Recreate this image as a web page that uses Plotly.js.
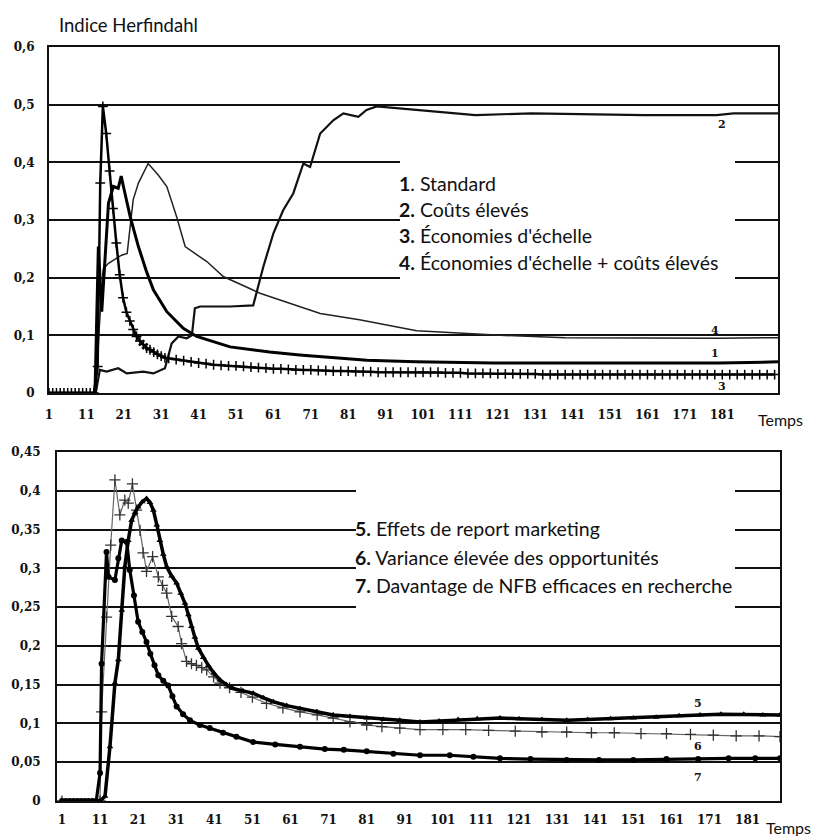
<!DOCTYPE html>
<html><head><meta charset="utf-8">
<script src="https://cdn.plot.ly/plotly-3.0.1.min.js"></script>
<style>html,body{margin:0;padding:0;background:#fff}#c{width:816px;height:836px}</style>
</head><body><div id="c"></div>
<script>
// ---------- DATA ----------
const xTickVals = [1,11,21,31,41,51,61,71,81,91,101,111,121,131,141,151,161,171,181];
const xTickText = ["1","11","21","31","41","51","61","71","81","91","101","111","121","131","141","151","161","171","181"];
const yTopVals = [0,0.1,0.2,0.3,0.4,0.5,0.6];
const yTopText = ["0","0,1","0,2","0,3","0,4","0,5","0,6"];
const yBotVals = [0,0.05,0.1,0.15,0.2,0.25,0.3,0.35,0.4,0.45];
const yBotText = ["0","0,05","0,1","0,15","0,2","0,25","0,3","0,35","0,4","0,45"];

const legendTop = ["<b>1</b>. Standard","<b>2.</b> Coûts élevés","<b>3.</b> Économies d'échelle","<b>4.</b> Économies d'échelle + coûts élevés"];
const legendBot = ["<b>5.</b> Effets de report marketing","<b>6.</b> Variance élevée des opportunités","<b>7.</b> Davantage de NFB efficaces en recherche"];

// Série 1 : Standard
const s1 = [[1,0],[13.3,0],[14.2,0.254],[15.1,0.141],[16.9,0.329],[18.2,0.358],[19.5,0.355],[20.3,0.376],[20.9,0.358],[22.7,0.306],[24.9,0.254],[27.1,0.21],[28.9,0.179],[32.5,0.141],[36.9,0.112],[40.5,0.098],[49.4,0.080],[60,0.071],[68,0.066],[86,0.057],[99,0.054],[120,0.052],[150,0.052],[180,0.052],[195.9,0.054]];
// Série 2 : Coûts élevés
const s2 = [[1,0],[13.5,0],[14.6,0.04],[16.4,0.037],[19.5,0.043],[21.8,0.034],[26.2,0.037],[28.9,0.034],[32,0.043],[33.8,0.086],[35.6,0.098],[37.8,0.095],[39.2,0.1],[40,0.147],[41.4,0.15],[49.4,0.15],[55.6,0.152],[58.3,0.219],[61,0.277],[63.6,0.317],[66.3,0.346],[68.1,0.381],[69,0.398],[70.8,0.392],[73.5,0.45],[77,0.473],[79.7,0.485],[83.7,0.479],[85.9,0.491],[88.6,0.497],[100,0.491],[103.8,0.488],[115,0.482],[130,0.485],[145,0.483],[160,0.482],[179.5,0.482],[184,0.485],[195.9,0.485]];
// Série 3 : Économies d'échelle
const s3 = [[1,0],[2,0],[3,0],[4,0],[5,0],[6,0],[7,0],[8,0],[9,0],[10,0],[11,0],[12,0],[13,0],[14,0.046],[14.7,0.364],[15.4,0.497],[16.3,0.45],[17.2,0.385],[18.1,0.32],[19,0.26],[19.9,0.205],[20.8,0.165],[21.7,0.14],[22.6,0.125],[23.5,0.11],[24.4,0.098],[25.3,0.09],[26.2,0.084],[27.1,0.078],[28,0.075],[29,0.071],[30,0.067],[31,0.064],[32,0.061],[33,0.06],[35,0.058],[37,0.056],[39,0.054],[41,0.052],[43,0.051],[45,0.049],[47,0.048],[49,0.047],[51,0.047],[53,0.046],[55,0.045],[57,0.044],[59,0.043],[61,0.042],[63,0.042],[65,0.041],[67,0.040],[69,0.040],[71,0.040],[73,0.039],[75,0.039],[77,0.038],[79,0.038],[81,0.038],[83,0.037],[85,0.037],[87,0.037],[89,0.036],[91,0.036],[93,0.036],[95,0.036],[97,0.036],[99,0.036],[101,0.036],[103,0.036],[105,0.036],[107,0.035],[109,0.035],[111,0.035],[113,0.034],[115,0.034],[117,0.034],[119,0.034],[121,0.033],[123,0.033],[125,0.033],[127,0.033],[129,0.033],[131,0.033],[133,0.032],[135,0.032],[137,0.032],[139,0.032],[141,0.032],[143,0.032],[145,0.032],[147,0.032],[149,0.032],[151,0.032],[153,0.032],[155,0.032],[157,0.032],[159,0.032],[161,0.032],[163,0.032],[165,0.032],[167,0.032],[169,0.032],[171,0.032],[173,0.032],[175,0.032],[177,0.032],[179,0.032],[181,0.032],[183,0.032],[185,0.032],[187,0.032],[189,0.032],[191,0.032],[193,0.032],[195,0.032]];
// Série 4 : Économies d'échelle + coûts élevés
const s4 = [[1,0],[13.5,0],[14.5,0.12],[15.5,0.215],[16.9,0.225],[20.4,0.239],[21.9,0.242],[22.7,0.294],[23.5,0.335],[24.9,0.364],[27.5,0.398],[30.2,0.378],[32.5,0.358],[35.1,0.306],[37.4,0.254],[40,0.242],[43.2,0.228],[47.6,0.202],[57.4,0.173],[73.5,0.138],[84,0.127],[99.3,0.108],[110,0.104],[121.6,0.1],[139,0.096],[160,0.095],[180,0.095],[195.9,0.096]];

// Série 5 : Effets de report marketing
const s5 = [[1,0],[3,0],[5,0],[7,0],[9,0],[11,0],[12.3,0.006],[13.6,0.07],[14.9,0.152],[15.8,0.182],[16.7,0.246],[17.5,0.302],[18.4,0.336],[19.3,0.362],[20.2,0.372],[21,0.379],[22.1,0.386],[23.2,0.39],[24.1,0.385],[25,0.375],[25.9,0.356],[26.7,0.336],[27.6,0.318],[28.5,0.302],[29.8,0.29],[31.1,0.281],[32.2,0.268],[33.3,0.255],[34.2,0.24],[35,0.225],[35.9,0.211],[36.8,0.197],[38.1,0.185],[39.4,0.175],[40.9,0.165],[42.5,0.156],[44.2,0.15],[45.9,0.145],[48.5,0.142],[51.2,0.139],[53.9,0.133],[56.5,0.128],[60,0.123],[63.5,0.119],[67.9,0.115],[72.2,0.111],[76.6,0.109],[81,0.107],[85.4,0.105],[89.7,0.104],[95,0.102],[100,0.103],[105,0.105],[110,0.106],[116,0.107],[121,0.106],[127,0.105],[133.5,0.104],[139,0.105],[145,0.106],[151,0.107],[157,0.108],[163,0.11],[168.5,0.111],[174,0.112],[180,0.112],[185,0.111],[189.5,0.111]];
// Série 6 : Variance élevée des opportunités
const s6 = [[1,0],[11,0],[11.4,0.115],[12.7,0.237],[13.8,0.33],[14.9,0.414],[16.2,0.369],[17.5,0.388],[18.4,0.384],[19.5,0.409],[20.6,0.375],[21.5,0.349],[22.3,0.32],[23.2,0.296],[24.8,0.315],[26.3,0.289],[27.4,0.278],[28.5,0.268],[29.8,0.238],[31.5,0.225],[32.4,0.203],[33.7,0.18],[35,0.177],[36.3,0.175],[37.7,0.172],[39,0.169],[40.8,0.16],[42.5,0.152],[45,0.146],[48,0.14],[51,0.134],[54.7,0.126],[59,0.12],[63.5,0.115],[68,0.111],[72.2,0.107],[76.6,0.102],[81,0.098],[85,0.096],[89.7,0.094],[95,0.092],[101,0.092],[107,0.092],[113,0.091],[120,0.09],[127,0.089],[133.5,0.089],[140,0.088],[146,0.088],[153,0.087],[159.7,0.087],[166,0.086],[172,0.085],[178,0.084],[184,0.084],[189.5,0.083]];
// Série 7 : Davantage de NFB efficaces en recherche
const s7 = [[1,0],[2,0],[3,0],[4,0],[5,0],[6,0],[7,0],[8,0],[9,0],[10,0],[11,0.036],[11.4,0.177],[12.7,0.321],[13.2,0.289],[14.9,0.285],[15.8,0.313],[16.7,0.336],[18,0.334],[18.8,0.298],[19.9,0.265],[21,0.231],[22.1,0.218],[23.2,0.205],[24.2,0.19],[25.3,0.175],[26.3,0.162],[27.6,0.155],[28.9,0.149],[30,0.135],[31.1,0.122],[32.8,0.112],[34.6,0.104],[37.2,0.098],[39.8,0.094],[43.3,0.088],[46.8,0.083],[51.2,0.076],[57,0.073],[63.5,0.07],[70,0.067],[75,0.066],[81,0.064],[88,0.061],[95,0.059],[102.8,0.059],[109,0.057],[116,0.055],[124,0.054],[133.5,0.053],[142,0.053],[151,0.053],[159.7,0.054],[168,0.054],[176,0.055],[183,0.055],[189.5,0.055]];

// series end labels
const topLabels = [["2",181,0.466],["4",179,0.108],["1",179,0.068],["3",181,0.011]];
const botLabels = [["5",168,0.126],["6",168,0.07],["7",168,0.03]];

// ---------- BUILD ----------
const X = a => a.map(p => p[0]);
const Y = a => a.map(p => p[1]);
const W = 816, H = 836;
const px = v => v / W, py = v => 1 - v / H;

const tickFont = {family: "DejaVu Serif", size: 12, color: "#111", weight: "bold"};
const txtFam = "Lato, 'Open Sans', sans-serif";
const txtFont = {family: txtFam, size: 19.5, color: "#111"};

function tr(data, xa, ya, line, marker) {
  const t = {x: X(data), y: Y(data), xaxis: xa, yaxis: ya, type: "scatter",
    mode: marker ? "lines+markers" : "lines", line: line, hoverinfo: "skip"};
  if (marker) t.marker = marker;
  return t;
}

const traces = [
  tr(s4, "x", "y", {color: "#222", width: 1.5}),
  tr(s2, "x", "y", {color: "#111", width: 2.2}),
  tr(s1, "x", "y", {color: "#000", width: 3}),
  tr(s3, "x", "y", {color: "#000", width: 2.5}, {symbol: "cross-thin", size: 7, line: {color: "#000", width: 1.5}}),
  tr(s6, "x2", "y2", {color: "#666", width: 1.2}, {symbol: "cross-thin", size: 8, line: {color: "#333", width: 1.3}}),
  tr(s5, "x2", "y2", {color: "#000", width: 3.5}, {symbol: "triangle-up", size: 6, color: "#000"}),
  tr(s7, "x2", "y2", {color: "#000", width: 3.2}, {symbol: "circle", size: 6, color: "#000"})
];

const axBase = {showline: true, linecolor: "#111", linewidth: 2, mirror: true, zeroline: false,
  ticks: "", tickfont: tickFont, fixedrange: true};

const annotations = [];
annotations.push({xref: "paper", yref: "paper", x: px(57), y: py(25), xanchor: "left", yanchor: "middle",
  text: "Indice Herfindahl", showarrow: false, font: {family: txtFam, size: 18.5, color: "#111"}});
annotations.push({xref: "paper", yref: "paper", x: px(756), y: py(419), xanchor: "left", yanchor: "middle",
  text: "Temps", showarrow: false, font: {family: txtFam, size: 16, color: "#111"}});
annotations.push({xref: "paper", yref: "paper", x: px(813), y: py(827), xanchor: "right", yanchor: "middle",
  text: "Temps", showarrow: false, font: {family: txtFam, size: 16, color: "#111"}});
const topLegY = [183, 209, 235, 262];
legendTop.forEach((t, i) => annotations.push({xref: "paper", yref: "paper", x: px(397), y: py(topLegY[i]),
  xanchor: "left", yanchor: "middle", text: t, showarrow: false, font: txtFont}));
const botLegY = [528, 557, 585];
legendBot.forEach((t, i) => annotations.push({xref: "paper", yref: "paper", x: px(353), y: py(botLegY[i]),
  xanchor: "left", yanchor: "middle", text: t, showarrow: false, font: txtFont}));
topLabels.forEach(l => annotations.push({xref: "x", yref: "y", x: l[1], y: l[2], text: l[0], showarrow: false,
  font: {family: "DejaVu Serif", size: 11, color: "#111", weight: "bold"}}));
botLabels.forEach(l => annotations.push({xref: "x2", yref: "y2", x: l[1], y: l[2], text: l[0], showarrow: false,
  font: {family: "DejaVu Serif", size: 11, color: "#111", weight: "bold"}}));

const shapes = [
  {type: "rect", xref: "paper", yref: "paper", x0: px(400), x1: px(735), y0: py(300), y1: py(142),
    fillcolor: "#fff", line: {width: 0}, layer: "above"},
  {type: "rect", xref: "paper", yref: "paper", x0: px(356), x1: px(735), y0: py(625), y1: py(478),
    fillcolor: "#fff", line: {width: 0}, layer: "above"}
];

const layout = {
  width: W, height: H, margin: {l: 0, r: 0, t: 0, b: 0},
  paper_bgcolor: "#fff", plot_bgcolor: "#fff", showlegend: false,
  xaxis: Object.assign({}, axBase, {domain: [px(49), px(778)], range: [1, 195.9], anchor: "y",
    tickvals: xTickVals, ticktext: xTickText, showgrid: false, ticklabelstandoff: 10}),
  yaxis: Object.assign({}, axBase, {domain: [py(393), py(47)], range: [0, 0.6], anchor: "x",
    tickvals: yTopVals, ticktext: yTopText, showgrid: true, gridcolor: "#111", gridwidth: 2, ticklabelstandoff: 10}),
  xaxis2: Object.assign({}, axBase, {domain: [px(57), px(780)], range: [-0.3, 189.5], anchor: "y2",
    tickvals: xTickVals, ticktext: xTickText, showgrid: false, ticklabelstandoff: 7}),
  yaxis2: Object.assign({}, axBase, {domain: [py(801), py(452)], range: [0, 0.45], anchor: "x2",
    tickvals: yBotVals, ticktext: yBotText, showgrid: true, gridcolor: "#111", gridwidth: 2, ticklabelstandoff: 12}),
  shapes: shapes, annotations: annotations
};

Plotly.newPlot("c", traces, layout, {staticPlot: true, displayModeBar: false});
</script>
</body></html>
